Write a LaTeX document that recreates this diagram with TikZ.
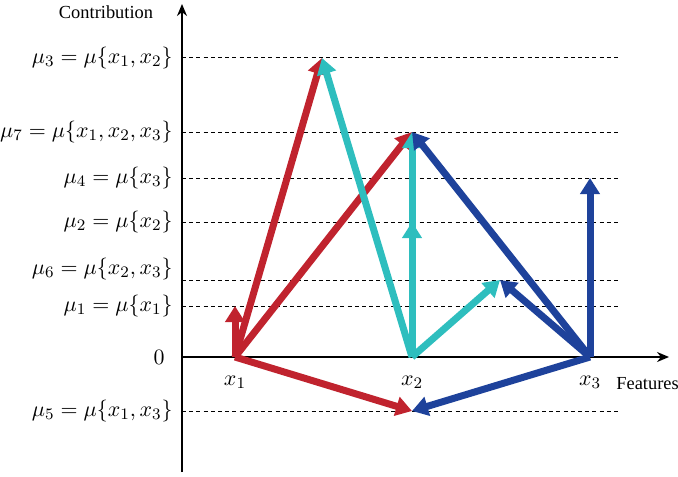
\documentclass[tikz,border=0pt]{standalone}
\usepackage{fontspec}
\setmainfont{Liberation Serif}
\usetikzlibrary{arrows.meta}
\definecolor{cred}{RGB}{192,35,46}
\definecolor{ccyan}{RGB}{46,190,190}
\definecolor{cblue}{RGB}{30,66,155}
\tikzset{
  axis/.style={line width=0.8pt,-{Stealth[length=6pt,width=5pt]}},
  guide/.style={line width=0.5pt,dash pattern=on 2pt off 1.6pt},
  vec/.style={line width=3.5pt,line join=round,-{Triangle[length=8pt,width=9.5pt]}},
  mlab/.style={anchor=east,inner sep=0pt,font=\fontsize{10.8}{12}\selectfont},
  tlab/.style={inner sep=0pt,font=\fontsize{9.2}{11}\selectfont},
}
\begin{document}
\begin{tikzpicture}[x=0.5pt,y=-0.5pt]
\useasboundingbox (0,0) rectangle (678,476);
% points
\coordinate (x1) at (235,357);
\coordinate (x2) at (412,357);
\coordinate (x3) at (590,357);
\coordinate (m3) at (322,58);
\coordinate (m7) at (412,132);
\coordinate (m4) at (590,178);
\coordinate (m2) at (412,222);
\coordinate (m6) at (500,280);
\coordinate (m1) at (235,306);
\coordinate (m5) at (412,411);
% axis ends
\coordinate (o) at (182,357);
\coordinate (ybot) at (182,472);
\coordinate (ytop) at (182,4);
\coordinate (xend) at (669,357);
% guides
\foreach \yy/\nm in {58/g3,132/g7,178/g4,222/g2,280/g6,306/g1,411/g5}{
  \coordinate (\nm a) at (182,\yy);
  \coordinate (\nm b) at (618,\yy);
  \draw[guide] (\nm a) -- (\nm b);
}
% axes
\draw[axis] (ybot) -- (ytop);
\draw[axis] (o) -- (xend);
% labels
\node[tlab] (lc) at (106,12) {Contribution};
\node[tlab,anchor=west] (lf) at (616,384) {Features};
\node[mlab] (l3) at (173,58) {$\mu_3=\mu\{x_1,x_2\}$};
\node[mlab] (l7) at (173,132) {$\mu_7=\mu\{x_1,x_2,x_3\}$};
\node[mlab] (l4) at (173,178) {$\mu_4=\mu\{x_3\}$};
\node[mlab] (l2) at (173,222) {$\mu_2=\mu\{x_2\}$};
\node[mlab] (l6) at (173,269) {$\mu_6=\mu\{x_2,x_3\}$};
\node[mlab] (l1) at (173,306) {$\mu_1=\mu\{x_1\}$};
\node[mlab] (l0) at (165,357) {$0$};
\node[mlab] (l5) at (173,411) {$\mu_5=\mu\{x_1,x_3\}$};
\node[mlab,anchor=center] (lx1) at (235,382) {$x_1$};
\node[mlab,anchor=center] (lx2) at (412,382) {$x_2$};
\node[mlab,anchor=center] (lx3) at (590,382) {$x_3$};
% red vectors
\draw[vec,cred] (x1) -- (m3);
\draw[vec,cred] (x1) -- (m7);
\draw[vec,cred] (x1) -- (m1);
\draw[vec,cred] (x1) -- (m5);
% cyan vectors
\draw[vec,ccyan] (x2) -- (m3);
\draw[vec,ccyan] (x2) -- (m7);
\draw[vec,ccyan] (x2) -- (m2);
\draw[vec,ccyan] (x2) -- (m6);
% blue vectors
\draw[vec,cblue] (x3) -- (m7);
\draw[vec,cblue] (x3) -- (m4);
\draw[vec,cblue] (x3) -- (m6);
\draw[vec,cblue] (x3) -- (m5);
\end{tikzpicture}
\end{document}
